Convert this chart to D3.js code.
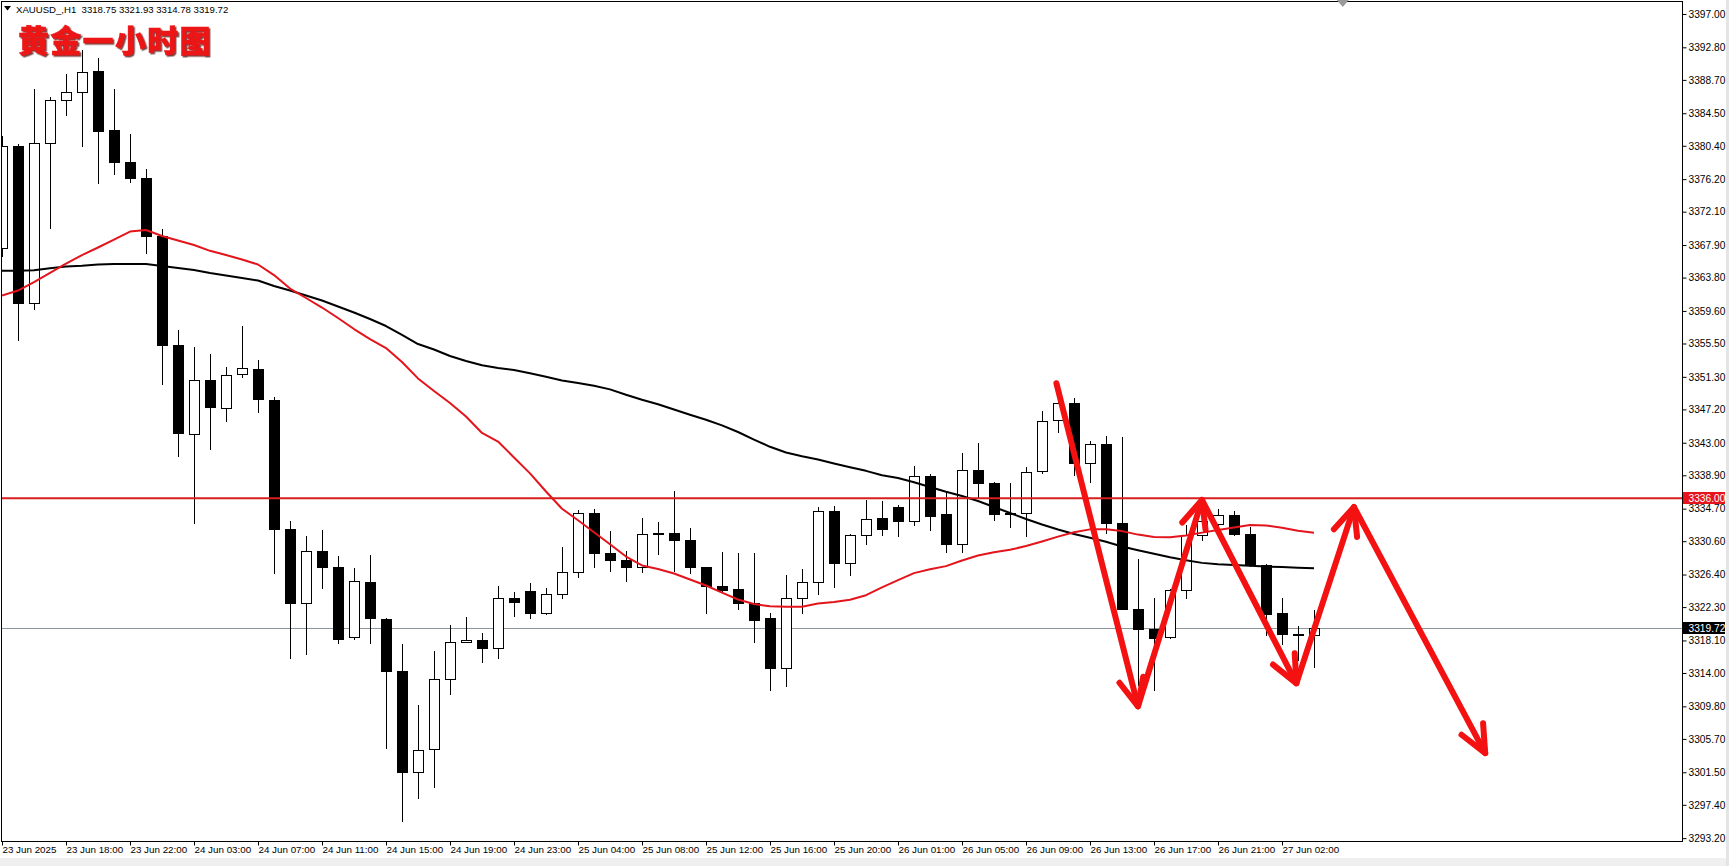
<!DOCTYPE html>
<html><head><meta charset="utf-8">
<script src="https://cdn.jsdelivr.net/npm/d3@7"></script>
<style>
html,body{margin:0;padding:0;background:#fff;overflow:hidden;}
svg{display:block;}
</style></head><body>
<svg id="chart" width="1729" height="866"></svg>
<script>
// ---------------- data ----------------
const symbol = "XAUUSD_,H1";
const chartTitle = "黄金一小时图";
const opens  = [3367.5,3380.4,3360.6,3380.7,3386.2,3387.2,3389.8,3382.4,3378.4,3376.4,
                3369.0,3355.3,3344.1,3350.9,3347.4,3351.6,3352.3,3348.4,3332.1,3322.8,
                3329.4,3327.4,3318.5,3325.5,3320.8,3314.2,3301.5,3304.4,3313.3,3317.9,
                3318.1,3317.2,3323.4,3324.3,3321.6,3324.0,3326.7,3334.2,3329.1,3328.2,
                3327.4,3331.5,3331.6,3330.7,3327.3,3325.0,3324.6,3322.8,3320.9,3314.6,
                3323.4,3325.4,3334.4,3327.8,3331.4,3333.5,3334.9,3333.1,3338.8,3334.0,
                3330.2,3339.6,3337.9,3334.0,3334.1,3339.4,3345.9,3348.0,3340.4,3342.9,
                3332.9,3322.1,3319.5,3318.5,3324.5,3331.4,3332.8,3333.9,3331.5,3327.6,
                3321.5,3318.9,3318.75];
const highs  = [3381.6,3380.6,3387.5,3386.5,3389.5,3392.5,3391.5,3387.5,3381.9,3377.5,
                3369.9,3357.2,3355.0,3354.2,3352.6,3357.7,3353.4,3348.8,3333.1,3331.3,
                3332.0,3328.7,3327.2,3328.8,3320.9,3317.6,3310.0,3316.8,3320.1,3321.0,
                3319.0,3324.9,3324.2,3325.3,3324.7,3329.9,3334.5,3334.7,3331.9,3329.4,
                3333.5,3333.0,3336.9,3332.3,3327.4,3329.3,3329.1,3329.1,3321.6,3326.3,
                3327.1,3334.9,3335.0,3331.5,3335.8,3335.6,3335.2,3340.1,3339.1,3336.8,
                3341.7,3343.0,3338.0,3337.9,3340.0,3347.0,3348.2,3348.6,3343.2,3343.9,
                3343.7,3328.3,3323.5,3324.6,3332.6,3334.5,3334.6,3334.4,3332.4,3327.7,
                3323.5,3319.9,3321.93];
const lows   = [3366.5,3356.0,3359.9,3370.1,3384.3,3380.4,3375.7,3376.9,3375.8,3366.9,
                3350.4,3341.3,3332.9,3342.2,3345.8,3351.3,3346.9,3326.6,3315.9,3316.4,
                3324.7,3317.8,3318.3,3317.8,3304.5,3295.3,3298.3,3299.6,3311.3,3317.9,
                3315.4,3315.9,3321.2,3320.9,3321.4,3323.5,3326.1,3327.4,3326.9,3325.6,
                3326.7,3329.0,3326.8,3326.6,3321.6,3324.3,3322.1,3317.9,3311.9,3312.3,
                3321.5,3323.9,3324.8,3326.3,3330.2,3331.4,3331.2,3332.7,3332.0,3329.2,
                3329.2,3336.2,3333.3,3332.4,3331.2,3339.2,3344.3,3338.9,3338.0,3331.6,
                3322.0,3312.5,3311.8,3318.4,3323.4,3330.8,3332.7,3331.4,3327.5,3318.8,
                3317.6,3315.6,3314.78];
const closes = [3380.4,3360.6,3380.7,3386.2,3387.2,3389.7,3382.3,3378.4,3376.4,3369.0,
                3355.3,3344.2,3350.9,3347.5,3351.5,3352.4,3348.5,3332.1,3322.8,3329.4,
                3327.4,3318.3,3325.6,3320.9,3314.2,3301.5,3304.3,3313.3,3317.9,3318.1,
                3317.2,3323.4,3322.9,3321.5,3324.0,3326.7,3334.2,3329.1,3328.2,3327.4,
                3331.5,3331.6,3330.7,3327.3,3324.9,3324.4,3322.8,3320.7,3314.6,3323.4,
                3325.4,3334.4,3327.9,3331.4,3333.4,3332.1,3333.1,3338.8,3333.8,3330.2,
                3339.6,3337.9,3334.0,3334.2,3339.3,3345.8,3348.0,3340.5,3342.9,3332.9,
                3322.1,3319.6,3318.4,3324.5,3331.4,3333.2,3333.9,3331.5,3327.6,3321.4,
                3318.9,3318.8,3319.72];
// fast moving average (red), one value per bar
const maFast = [3361.53,3362.17,3363.24,3364.38,3365.57,3366.64,3367.59,3368.58,3369.59,3369.79,
                3369.04,3368.47,3367.90,3367.17,3366.64,3366.08,3365.45,3364.12,3362.42,3361.23,
                3360.03,3358.71,3357.32,3356.06,3354.93,3353.17,3351.10,3349.52,3348.00,3346.30,
                3344.23,3343.15,3341.15,3339.14,3336.86,3334.69,3333.23,3331.73,3330.22,3328.67,
                3327.55,3327.10,3326.53,3325.78,3325.02,3324.13,3323.26,3322.69,3322.40,3322.35,
                3322.35,3322.75,3322.94,3323.22,3323.80,3324.78,3325.70,3326.58,3327.06,3327.46,
                3328.17,3328.79,3329.21,3329.52,3329.99,3330.57,3331.18,3331.73,3332.09,3332.11,
                3331.87,3331.43,3331.13,3331.11,3331.32,3331.68,3332.01,3332.32,3332.64,3332.59,
                3332.30,3331.91,3331.67];
// slow moving average (black)
const maSlow = [3364.65,3364.66,3364.73,3364.97,3365.19,3365.28,3365.45,3365.51,3365.51,3365.51,
                3365.26,3365.01,3364.75,3364.38,3364.06,3363.75,3363.43,3362.74,3362.17,3361.54,
                3360.91,3360.16,3359.40,3358.58,3357.70,3356.57,3355.43,3354.74,3353.92,3353.29,
                3352.75,3352.41,3352.15,3351.74,3351.30,3350.85,3350.52,3350.17,3349.72,3349.04,
                3348.41,3347.85,3347.18,3346.53,3345.89,3345.18,3344.35,3343.39,3342.49,3341.77,
                3341.30,3340.88,3340.38,3339.92,3339.46,3338.90,3338.56,3338.02,3337.42,3336.82,
                3336.29,3335.66,3334.91,3334.15,3333.39,3332.70,3332.07,3331.51,3331.03,3330.52,
                3329.93,3329.47,3329.02,3328.58,3328.19,3327.87,3327.70,3327.60,3327.50,3327.41,
                3327.35,3327.26,3327.19];
const priceTicks = [3397.00,3392.80,3388.70,3384.50,3380.40,3376.20,3372.10,3367.90,3363.80,
                    3359.60,3355.50,3351.30,3347.20,3343.00,3338.90,3334.70,3330.60,3326.40,
                    3322.30,3318.10,3314.00,3309.80,3305.70,3301.50,3297.40,3293.20];
const timeTickIndex  = [0,4,8,12,16,20,24,28,32,36,40,44,48,52,56,60,64,68,72,76,80];
const timeTickLabels = ["23 Jun 2025","23 Jun 18:00","23 Jun 22:00","24 Jun 03:00","24 Jun 07:00",
                        "24 Jun 11:00","24 Jun 15:00","24 Jun 19:00","24 Jun 23:00","25 Jun 04:00",
                        "25 Jun 08:00","25 Jun 12:00","25 Jun 16:00","25 Jun 20:00","26 Jun 01:00",
                        "26 Jun 05:00","26 Jun 09:00","26 Jun 13:00","26 Jun 17:00","26 Jun 21:00",
                        "27 Jun 02:00"];
const levelPrice = 3336.00;
const bidPrice = 3319.72;
// hand-drawn forecast arrows: [bar index, price] vertices
const arrowBars   = [65.9, 71.0, 75.0, 80.9, 84.5, 92.7];
const arrowPrices = [3350.5, 3309.8, 3335.8, 3312.7, 3334.9, 3303.9];
const shiftMarkBar = 83.8;

// ---------------- layout ----------------
const W = 1729, H = 866;
const plotL = 1.5, plotR = 1682.5, plotT = 1.5, plotB = 841.5;
const FONT = "'Liberation Sans', Arial, sans-serif";
const FS = 10.2;
const svg = d3.select("#chart");

const x = d3.scaleLinear().domain([0, opens.length - 1]).range([2, 2 + 16 * (opens.length - 1)]);
const y = d3.scaleLinear()
  .domain([priceTicks[priceTicks.length - 1], priceTicks[0]])
  .range([673 + (3314 - priceTicks[priceTicks.length - 1]) * 7.94, 673 - (priceTicks[0] - 3314) * 7.94]);

const defs = svg.append("defs");
const f = defs.append("filter").attr("id", "titleShadow").attr("x", "-5%").attr("y", "-5%").attr("width", "115%").attr("height", "130%");
f.append("feDropShadow").attr("dx", 1.5).attr("dy", 1.5).attr("stdDeviation", 0.3)
  .attr("flood-color", "#4a0000").attr("flood-opacity", 0.75);

svg.append("rect").attr("width", W).attr("height", H).attr("fill", "#fff");
// bottom window strip
svg.append("rect").attr("x", 0).attr("y", 858).attr("width", W).attr("height", H - 858).attr("fill", "#f0f0f0");
svg.append("rect").attr("x", 1726).attr("y", 0).attr("width", 3).attr("height", H).attr("fill", "#e4e4e4");

svg.append("clipPath").attr("id", "plotClip").append("rect")
  .attr("x", plotL + 0.5).attr("y", plotT + 0.5).attr("width", plotR - plotL - 1).attr("height", plotB - plotT - 1);

const plot = svg.append("g").attr("clip-path", "url(#plotClip)");

// bid line
plot.append("line").attr("x1", plotL).attr("x2", plotR)
  .attr("y1", Math.round(y(bidPrice)) + 0.5).attr("y2", Math.round(y(bidPrice)) + 0.5)
  .attr("stroke", "#8c959c").attr("stroke-width", 1);

// candles
const idx = d3.range(opens.length);
const cg = plot.append("g").attr("shape-rendering", "crispEdges");
cg.selectAll("line.wick").data(idx).join("line").attr("class", "wick")
  .attr("x1", i => Math.round(x(i)) + 0.5).attr("x2", i => Math.round(x(i)) + 0.5)
  .attr("y1", i => Math.round(y(highs[i]))).attr("y2", i => Math.round(y(lows[i])) + 1)
  .attr("stroke", "#000").attr("stroke-width", 1);
cg.selectAll("path.body").data(idx).join("path").attr("class", "body")
  .attr("d", i => {
    const x0 = Math.round(x(i)) - 5 + 0.5;
    const yt = Math.round(y(Math.max(opens[i], closes[i]))) + 0.5;
    const yb = Math.round(y(Math.min(opens[i], closes[i]))) + 0.5;
    return `M${x0},${yt}H${x0 + 10}V${yb}H${x0}Z`;
  })
  .attr("fill", i => closes[i] >= opens[i] ? "#fff" : "#000")
  .attr("stroke", "#000").attr("stroke-width", 1);

// moving averages
const lineGen = arr => d3.line().x((d, i) => x(i)).y(d => y(d))(arr);
plot.append("path").attr("d", lineGen(maSlow)).attr("fill", "none")
  .attr("stroke", "#000").attr("stroke-width", 2).attr("stroke-linejoin", "round");
plot.append("path").attr("d", lineGen(maFast)).attr("fill", "none")
  .attr("stroke", "#e3141b").attr("stroke-width", 2).attr("stroke-linejoin", "round");

// horizontal level
plot.append("line").attr("x1", plotL).attr("x2", plotR)
  .attr("y1", y(levelPrice)).attr("y2", y(levelPrice))
  .attr("stroke", "#d81e1e").attr("stroke-width", 2);

// forecast arrows
const ag = plot.append("g").attr("stroke", "#f31111").attr("stroke-width", 6)
  .attr("stroke-linecap", "round").attr("stroke-linejoin", "round").attr("fill", "none");
const pts = arrowBars.map((b, k) => [x(b), y(arrowPrices[k])]);
ag.append("path").attr("d", d3.line()(pts));
for (let k = 1; k < pts.length; k++) {
  const [x0, y0] = pts[k - 1], [x1, y1] = pts[k];
  const L = Math.hypot(x1 - x0, y1 - y0), ux = (x1 - x0) / L, uy = (y1 - y0) / L;
  const hl = 30, th = 24 * Math.PI / 180;
  const w1 = [x1 - hl * (ux * Math.cos(th) - uy * Math.sin(th)), y1 - hl * (uy * Math.cos(th) + ux * Math.sin(th))];
  const w2 = [x1 - hl * (ux * Math.cos(th) + uy * Math.sin(th)), y1 - hl * (uy * Math.cos(th) - ux * Math.sin(th))];
  ag.append("path").attr("d", d3.line()([w1, [x1, y1], w2]));
}

// frame
svg.append("rect").attr("x", plotL).attr("y", plotT).attr("width", plotR - plotL).attr("height", plotB - plotT)
  .attr("fill", "none").attr("stroke", "#000").attr("stroke-width", 1).attr("shape-rendering", "crispEdges");

// shift marker
svg.append("path").attr("d", `M${x(shiftMarkBar) - 6},0H${x(shiftMarkBar) + 6}L${x(shiftMarkBar)},7Z`).attr("fill", "#9a9a9a");

// price axis
const yAxis = d3.axisRight(y).tickValues(priceTicks).tickFormat(d3.format(".2f")).tickSize(4).tickPadding(2);
const gY = svg.append("g").attr("transform", `translate(${plotR},0)`).call(yAxis);
gY.select(".domain").remove();
gY.selectAll("text").attr("font-family", FONT).attr("font-size", FS).attr("fill", "#000");
gY.selectAll("line").attr("stroke", "#000");

// time axis
const xAxis = d3.axisBottom(x).tickValues(timeTickIndex).tickFormat((d, i) => timeTickLabels[i]).tickSize(4);
const gX = svg.append("g").attr("transform", `translate(0,${plotB})`).call(xAxis);
gX.select(".domain").remove();
gX.selectAll("text").attr("font-family", FONT).attr("font-size", 9.8).attr("fill", "#000")
  .attr("text-anchor", "start").attr("x", 0).attr("y", 5).attr("dy", "0.71em");
gX.selectAll("line").attr("stroke", "#000");

// price tags
function tag(price, bg) {
  const yy = Math.round(y(price));
  const g = svg.append("g");
  g.append("rect").attr("x", plotR + 0.5).attr("y", yy - 6).attr("width", 42).attr("height", 12).attr("fill", bg);
  g.append("text").attr("x", plotR + 6).attr("y", yy).attr("dy", "0.35em")
    .attr("font-family", FONT).attr("font-size", FS).attr("fill", "#fff").text(d3.format(".2f")(price));
}
tag(levelPrice, "#e8141b");
tag(bidPrice, "#000");

// header
const last = opens.length - 1;
svg.append("path").attr("d", "M4,6H11L7.5,10.5Z").attr("fill", "#000");
svg.append("text").attr("x", 16).attr("y", 12.5).attr("font-family", FONT).attr("font-size", 9.6).attr("fill", "#000")
  .attr("xml:space", "preserve")
  .text(`${symbol}  ${opens[last].toFixed(2)} ${highs[last].toFixed(2)} ${lows[last].toFixed(2)} ${closes[last].toFixed(2)}`);

// Chinese title with shadow
const tf = "'Noto Sans CJK SC', 'Noto Sans CJK JP', sans-serif";
svg.append("text").attr("x", 18).attr("y", 51.5).attr("font-family", tf).attr("font-weight", 900)
  .attr("font-size", 31).attr("letter-spacing", 1.3)
  .attr("fill", "#ec1313").attr("stroke", "#ec1313").attr("stroke-width", 0.5)
  .attr("filter", "url(#titleShadow)")
  .text(chartTitle);
</script>
</body></html>
